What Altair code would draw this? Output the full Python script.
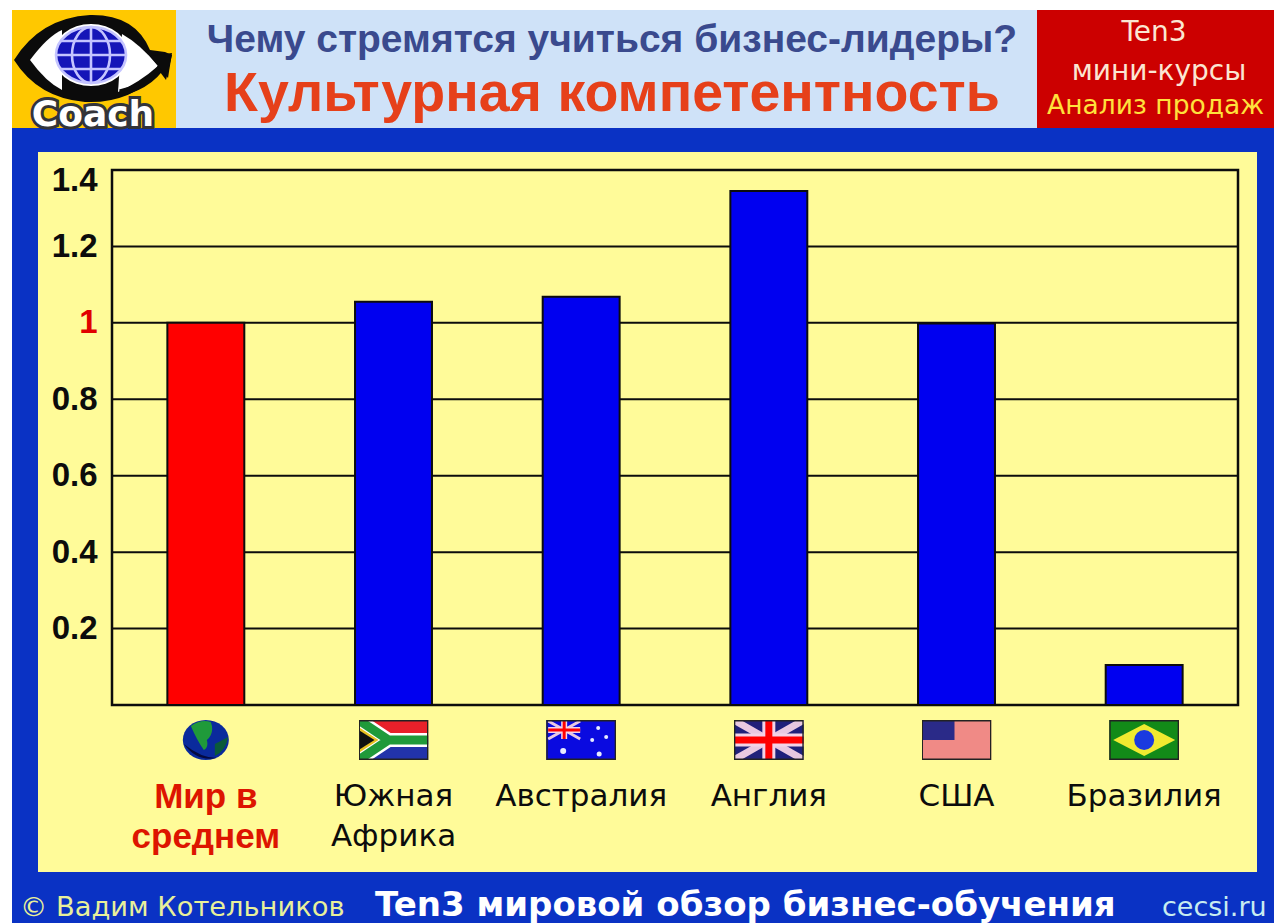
import base64

import altair as alt
import pandas as pd

# Survey values
CATEGORIES = ["Мир в|среднем", "Южная|Африка", "Австралия", "Англия", "США", "Бразилия"]
SCORES = [1.0, 1.055, 1.068, 1.345, 0.998, 0.105]
HIGHLIGHT = [True, False, False, False, False, False]
Y_TICKS = [0.2, 0.4, 0.6, 0.8, 1.0, 1.2, 1.4]

# Header and footer wording
QUESTION = "Чему стремятся учиться бизнес-лидеры?"
TOPIC = "Культурная компетентность"
BADGE_LINES = ["Ten3", "мини-курсы", "Анализ продаж"]
FOOT_AUTHOR = "© Вадим Котельников"
FOOT_SURVEY = "Ten3 мировой обзор бизнес-обучения"
FOOT_SITE = "cecsi.ru"
LOGO_WORD = "Coach"

# Plot rectangle inside the page, in page pixels
LEFT, TOP, W, H = 112, 170, 1126, 535
PAGE_W, PAGE_H = 1274, 923

SANS = "Liberation Sans"
WIDE = "DejaVu Sans"


def svg_uri(body, view):
    svg = f'<svg xmlns="http://www.w3.org/2000/svg" viewBox="{view}" width="280" height="160">{body}</svg>'
    return "data:image/svg+xml;base64," + base64.b64encode(svg.encode()).decode()


FRAME = '<rect x="0.75" y="0.75" width="68.5" height="38.5" fill="none" stroke="#222" stroke-width="1.5"/>'
UNION = (
    '<path d="M{x0} {y0}L{x1} {y1}M{x0} {y1}L{x1} {y0}" stroke="#e8c8e0" stroke-width="{a}"/>'
    '<path d="M{cx} {y0}V{y1}M{x0} {cy}H{x1}" stroke="#f3d3e6" stroke-width="{b}"/>'
    '<path d="M{cx} {y0}V{y1}M{x0} {cy}H{x1}" stroke="#f00" stroke-width="{c}"/>'
)
FLAGS = [
    # globe
    '<ellipse cx="35" cy="20" rx="23" ry="20" fill="#0a2a9c"/>'
    '<path d="M20 6Q30 -1 40 2Q44 13 36 20Q38 27 33 30Q26 20 20 6Z" fill="#1f9a3a"/>'
    '<path d="M44 24Q52 20 57 17Q56 30 44 36Z" fill="#0a5a3a"/>'
    '<path d="M13 24Q26 42 46 38Q30 38 13 24Z" fill="#050a40"/>',
    # South Africa
    '<rect width="70" height="20" fill="#e8202a"/><rect y="20" width="70" height="20" fill="#2233aa"/>'
    '<path d="M0 0L30 20L0 40M30 20H70" fill="none" stroke="#fff" stroke-width="14"/>'
    '<path d="M0 0L30 20L0 40M30 20H70" fill="none" stroke="#1f9a3a" stroke-width="9"/>'
    '<path d="M0 7L20 20L0 33Z" fill="#e8c020"/><path d="M0 10L16 20L0 30Z" fill="#111"/>' + FRAME,
    # Australia
    '<rect width="70" height="40" fill="#0a0ae0"/>'
    + UNION.format(x0=2, y0=1, x1=34, y1=19, cx=18, cy=10, a=3, b=6, c=3)
    + '<g fill="#e8ecff"><circle cx="17" cy="31" r="3"/><circle cx="52" cy="8" r="2"/>'
    '<circle cx="60" cy="17" r="2"/><circle cx="46" cy="20" r="2"/><circle cx="53" cy="34" r="2.5"/></g>' + FRAME,
    # England / United Kingdom
    '<rect width="70" height="40" fill="#20207a"/>'
    + UNION.format(x0=0, y0=0, x1=70, y1=40, cx=35, cy=20, a=7, b=13, c=7)
    + FRAME,
    # USA
    '<rect width="70" height="40" fill="#f08a86"/>'
    '<rect width="33" height="20" fill="#2a2a88"/>' + FRAME,
    # Brazil
    '<rect width="70" height="40" fill="#128a18"/><path d="M35 4L66 20L35 36L4 20Z" fill="#f0ea30"/>'
    '<circle cx="35" cy="20" r="10" fill="#1a3ae0"/>' + FRAME,
]

LOGO_ART = (
    '<rect x="12" y="10" width="164" height="118" fill="#ffc800"/>'
    '<path d="M14 60Q40 18 90 15Q135 14 150 50L165 52L172 55L166 80L160 72Q130 104 85 102Q38 98 14 60Z" fill="#0b0b0b"/>'
    '<path d="M30 60Q48 36 62 30L62 90Q46 82 30 60Z" fill="#fff"/>'
    '<path d="M122 34Q140 44 158 66Q140 82 118 92Z" fill="#fff"/>'
    '<ellipse cx="91" cy="55" rx="38" ry="31" fill="#fff"/>'
    '<ellipse cx="91" cy="55" rx="35" ry="28" fill="#1515b8"/>'
    '<g fill="none" stroke="#c4c4ff" stroke-width="2.6">'
    '<ellipse cx="91" cy="55" rx="35" ry="28"/><ellipse cx="91" cy="55" rx="19" ry="28"/>'
    '<path d="M91 27V83M56 55H126M61 41H121M61 69H121"/></g>'
    '<path d="M120 93Q155 84 166 58" fill="none" stroke="#0b0b0b" stroke-width="7"/>'
    '<path d="M150 56L172 53L168 78Z" fill="#0b0b0b"/>'
)

frame_df = pd.DataFrame({"category": CATEGORIES, "score": SCORES, "highlight": HIGHLIGHT, "flag": [svg_uri(b, "0 0 70 40") for b in FLAGS]})
grid_df = pd.DataFrame({"tick": Y_TICKS})

IS_WORLD = "indexof(datum.value, 'Мир') == 0"

x_enc = alt.X(
    "category:N",
    sort=CATEGORIES,
    scale=alt.Scale(domain=CATEGORIES, paddingInner=0.59, paddingOuter=0.295),
    title=None,
    axis=alt.Axis(
        zindex=1,
        domain=False,
        ticks=False,
        labelAngle=0,
        labelPadding=91,
        labelLineHeight=40,
        labelBaseline="middle",
        labelExpr="split(datum.value, '|')",
        labelFont={"condition": {"test": IS_WORLD, "value": SANS}, "value": WIDE},
        labelFontSize={"condition": {"test": IS_WORLD, "value": 35}, "value": 31},
        labelColor={"condition": {"test": IS_WORLD, "value": "#dd1500"}, "value": "#0c0c0c"},
        labelFontWeight={"condition": {"test": IS_WORLD, "value": "bold"}, "value": "normal"},
    ),
)
y_enc = alt.Y(
    "score:Q",
    scale=alt.Scale(domain=[0, 1.4], nice=False),
    title=None,
    axis=alt.Axis(
        zindex=1,
        grid=False,
        domain=False,
        ticks=False,
        values=Y_TICKS,
        format="~g",
        labelPadding=15,
        labelFont=SANS,
        labelFontSize=33,
        labelFontWeight="bold",
        labelColor={"condition": {"test": "datum.value == 1", "value": "#e00000"}, "value": "#0c0c0c"},
        labelOffset={"condition": {"test": "datum.value == 1.4", "value": 10}, "value": 0},
    ),
)


def panel(x0, y0, x1, y1, color):
    # A flat rectangle given in page pixels
    return (
        alt.Chart(grid_df.head(1))
        .mark_rect(color=color)
        .encode(
            x=alt.value(x0 - LEFT),
            x2=alt.value(x1 - LEFT),
            y=alt.value(y0 - TOP),
            y2=alt.value(y1 - TOP),
        )
    )


def caption(text, x, y, size, color, weight="normal", font=SANS, align="center", **kw):
    # One line of page furniture, placed in page pixels
    return (
        alt.Chart(grid_df.head(1))
        .mark_text(text=text, fontSize=size, color=color, fontWeight=weight, font=font, align=align, baseline="middle", **kw)
        .encode(x=alt.value(x - LEFT), y=alt.value(y - TOP))
    )


panels = [
    panel(12, 128, PAGE_W, PAGE_H, "#0a32c4"),
    panel(176, 10, 1037, 128, "#cfe2f8"),
    panel(1037, 10, PAGE_W, 128, "#cc0000"),
    panel(38, 152, 1257, 872, "#fffb99"),
]

logo = (
    alt.Chart(pd.DataFrame({"art": [svg_uri(LOGO_ART, "12 10 164 118")]}))
    .mark_image(width=164, height=118, align="left", baseline="top")
    .encode(url="art:N", x=alt.value(12 - LEFT), y=alt.value(10 - TOP))
)

gridlines = alt.Chart(grid_df).mark_rule(color="#0c0c0c", strokeWidth=2).encode(y=alt.Y("tick:Q", scale=alt.Scale(domain=[0, 1.4], nice=False)))

plot_frame = (
    alt.Chart(grid_df.head(1))
    .mark_rect(fill="transparent", stroke="#0c0c0c", strokeWidth=2.5)
    .encode(x=alt.value(0), x2=alt.value(W), y=alt.value(0), y2=alt.value(H))
)

bars = (
    alt.Chart(frame_df)
    .mark_bar(stroke="#0c0c0c", strokeWidth=2)
    .encode(
        x=x_enc,
        y=y_enc,
        color=alt.Color("highlight:N", scale=alt.Scale(domain=[True, False], range=["#ff0000", "#0000f0"]), legend=None),
    )
)

flags = (
    alt.Chart(frame_df)
    .mark_image(width=70, height=40, align="center", baseline="middle")
    .encode(x=alt.X("category:N", sort=CATEGORIES), url="flag:N", y=alt.value(740 - TOP))
)

texts = [
    caption(LOGO_WORD, 93, 115, 36, "#33343a", "bold", WIDE, stroke="#33343a", strokeWidth=6),
    caption(LOGO_WORD, 93, 115, 36, "#ffffff", "bold", WIDE),
    caption(QUESTION, 612, 40, 39, "#3a4a8e", "bold"),
    caption(TOPIC, 612, 94, 55.5, "#e6401a", "bold"),
    caption(BADGE_LINES[0], 1154, 33, 28, "#fbe6d2", font=WIDE),
    caption(BADGE_LINES[1], 1159, 72, 28, "#fbe6d2", font=WIDE),
    caption(BADGE_LINES[2], 1047, 106, 26.5, "#ffe23c", font=WIDE, align="left"),
    caption(FOOT_AUTHOR, 20, 908, 27.3, "#e8f09a", font=WIDE, align="left"),
    caption(FOOT_SURVEY, 375, 906, 34, "#ffffff", "bold", WIDE, align="left"),
    caption(FOOT_SITE, 1162, 908, 27, "#c8ecf0", font=WIDE, align="left"),
]

chart = (
    alt.layer(*panels, logo, gridlines, plot_frame, bars, flags, *texts)
    .resolve_scale(x="shared", y="shared")
    .properties(
        width=W,
        height=H,
        background="#ffffff",
        autosize=alt.AutoSizeParams(type="none"),
        padding={"left": LEFT, "top": TOP, "right": PAGE_W - LEFT - W, "bottom": PAGE_H - TOP - H},
    )
    .configure_view(stroke=None)
)

chart.save("out.html", embed_options={"renderer": "svg", "actions": False})
